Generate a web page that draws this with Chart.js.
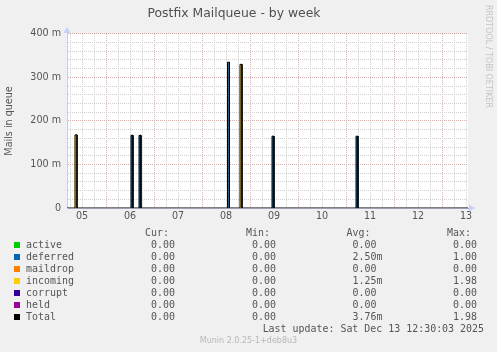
<!DOCTYPE html>
<html>
<head>
<meta charset="utf-8">
<script src="https://cdn.jsdelivr.net/npm/chart.js@4/dist/chart.umd.min.js"></script>
<style>
  html, body { margin: 0; padding: 0; background: #f0f0f0; }
  #wrap { position: relative; width: 497px; height: 352px; overflow: hidden; background: #f0f0f0; }
  #chart { position: absolute; left: 0; top: 0; }
  .mono { position: absolute; font-family: "DejaVu Sans Mono", monospace; font-size: 9.95px; line-height: 12px; color: #555; white-space: pre; }
  .sq { position: absolute; width: 6px; height: 6px; }
  #rrd { position: absolute; left: 483px; top: 5px; width: 10px; line-height: 10px; writing-mode: vertical-rl; font-family: "DejaVu Sans", sans-serif; font-size: 8px; color: #c4c4c4; white-space: nowrap; }
  #munin { position: absolute; left: 0; width: 497px; top: 335px; text-align: center; font-family: "DejaVu Sans", sans-serif; font-size: 8px; line-height: 12px; color: #b8b8b8; }
</style>
</head>
<body>
<div id="wrap">
  <canvas id="chart" width="497" height="230"></canvas>
  <div id="rrd">RRDTOOL / TOBI OETIKER</div>
  <div id="legend"></div>
  <div id="munin">Munin 2.0.25-1+deb8u3</div>
</div>
<script>
// ---- data (hours since Dec 05 00:00; values in mails, 30-min averages) ----
const rangeStart = 4.5;
const rangeEnd = 205;
const sampleHours   = [9,     37,    41,    85.25, 91.5,  107.5, 149.5];
const activeVals    = [0,     0,     0,     0,     0,     0,     0];
const deferredVals  = [0,     0.167, 0.167, 0.335, 0,     0.165, 0.165];
const maildropVals  = [0,     0,     0,     0,     0,     0,     0];
const incomingVals  = [0.168, 0,     0,     0,     0.330, 0,     0];
const corruptVals   = [0,     0,     0,     0,     0,     0,     0];
const heldVals      = [0,     0,     0,     0,     0,     0,     0];
const totalVals     = [0.168, 0.167, 0.167, 0.335, 0.330, 0.165, 0.165];
const sampleHalfSpan = 0.5;

// ---- ticks ----
const xLabelHours = [12, 36, 60, 84, 108, 132, 156, 180, 204];
const xLabels     = ['05', '06', '07', '08', '09', '10', '11', '12', '13'];
const xGridHours  = [6,12,18,24,30,36,42,48,54,60,66,72,78,84,90,96,102,108,114,120,126,132,138,144,150,156,162,168,174,180,186,192,198,204];
const yLabelValues = [0, 0.1, 0.2, 0.3, 0.4];
const yLabels      = ['0', '100 m', '200 m', '300 m', '400 m'];
const yGridValues  = [0,0.02,0.04,0.06,0.08,0.1,0.12,0.14,0.16,0.18,0.2,0.22,0.24,0.26,0.28,0.3,0.32,0.34,0.36,0.38,0.4];

// ---- legend table ----
const seriesNames  = ['active', 'deferred', 'maildrop', 'incoming', 'corrupt', 'held', 'Total'];
const seriesColors = ['#00CC00', '#0066B3', '#FF8000', '#FFCC00', '#330099', '#990099', '#000000'];
const curCol = ['0.00 ', '0.00 ', '0.00 ', '0.00 ', '0.00 ', '0.00 ', '0.00 '];
const minCol = ['0.00 ', '0.00 ', '0.00 ', '0.00 ', '0.00 ', '0.00 ', '0.00 '];
const avgCol = ['0.00 ', '2.50m', '0.00 ', '1.25m', '0.00 ', '0.00 ', '3.76m'];
const maxCol = ['0.00 ', '1.00 ', '0.00 ', '1.98 ', '0.00 ', '0.00 ', '1.98 '];
const lastUpdate = 'Last update: Sat Dec 13 12:30:03 2025';

// each 30-min sample is drawn as a step (rrdtool style)
function stepPoints(values) {
  const pts = [{x: rangeStart, y: 0}];
  sampleHours.forEach((h, i) => {
    if (values[i] > 0) {
      pts.push({x: h - sampleHalfSpan, y: 0}, {x: h - sampleHalfSpan, y: values[i]},
               {x: h + sampleHalfSpan, y: values[i]}, {x: h + sampleHalfSpan, y: 0});
    }
  });
  pts.push({x: rangeEnd, y: 0});
  return pts;
}

const areaSeries = [activeVals, deferredVals, maildropVals, incomingVals, corruptVals, heldVals];
const datasets = [{
  label: 'Total', data: stepPoints(totalVals), borderColor: '#000000', borderWidth: 1,
  fill: false, pointRadius: 0, tension: 0
}];
areaSeries.forEach((vals, i) => {
  datasets.push({
    label: seriesNames[i], data: stepPoints(vals), borderWidth: 0, borderColor: seriesColors[i],
    backgroundColor: seriesColors[i], fill: 'origin', pointRadius: 0, tension: 0
  });
});

const isMajorY = v => Math.abs(v * 10 - Math.round(v * 10)) < 1e-6;

const plotBg = {
  id: 'plotBg',
  beforeDraw(chart) {
    const {ctx, chartArea: a} = chart;
    ctx.save();
    ctx.fillStyle = '#ffffff';
    ctx.fillRect(a.left, a.top, a.right - a.left, a.bottom - a.top);
    ctx.restore();
  }
};

const arrows = {
  id: 'arrows',
  afterDraw(chart) {
    const {ctx, chartArea: a} = chart;
    ctx.save();
    ctx.fillStyle = '#c8d0fa';
    ctx.beginPath();
    ctx.moveTo(a.right + 1, a.bottom - 3.5);
    ctx.lineTo(a.right + 7, a.bottom);
    ctx.lineTo(a.right + 1, a.bottom + 3.5);
    ctx.closePath(); ctx.fill();
    ctx.beginPath();
    ctx.moveTo(a.left - 3.5, a.top - 1);
    ctx.lineTo(a.left, a.top - 7);
    ctx.lineTo(a.left + 3.5, a.top - 1);
    ctx.closePath(); ctx.fill();
    ctx.restore();
  }
};

const axisFont = {family: 'DejaVu Sans', size: 9.6};

new Chart(document.getElementById('chart'), {
  type: 'line',
  data: {datasets},
  plugins: [plotBg, arrows],
  options: {
    responsive: false,
    animation: false,
    events: [],
    layout: {padding: {left: 0, right: 29, top: 0, bottom: 0}},
    plugins: {
      legend: {display: false},
      tooltip: {enabled: false},
      title: {
        display: true, text: 'Postfix Mailqueue - by week', color: '#505050',
        font: {family: 'DejaVu Sans', size: 12.4, weight: 'normal'},
        padding: {top: 6, bottom: 13}
      }
    },
    scales: {
      x: {
        type: 'linear', min: rangeStart, max: rangeEnd,
        afterBuildTicks: s => { s.ticks = xGridHours.map(v => ({value: v})); },
        afterFit: s => { s.height = 22; },
        ticks: {
          autoSkip: false, maxRotation: 0, padding: 3, color: '#555', font: axisFont,
          callback: v => { const i = xLabelHours.indexOf(v); return i >= 0 ? xLabels[i] : ''; }
        },
        grid: {
          drawTicks: false, lineWidth: 1,
          color: c => (c.tick && c.tick.value % 24 === 0) ? '#eaa4a4' : '#d0d0d0'
        },
        border: {display: true, color: '#9c9cb4', width: 1, dash: [1, 1]}
      },
      y: {
        type: 'linear', min: 0, max: 0.4,
        afterBuildTicks: s => { s.ticks = yGridValues.map(v => ({value: v})); },
        afterFit: s => { s.width = 67; },
        ticks: {
          autoSkip: false, padding: 6, color: '#555', font: axisFont,
          callback: v => { const i = yLabelValues.findIndex(t => Math.abs(t - v) < 1e-9); return i >= 0 ? yLabels[i] : ''; }
        },
        grid: {
          drawTicks: false, lineWidth: 1,
          color: c => {
            const v = c.tick ? c.tick.value : 0;
            if (v === 0) return 'rgba(0,0,0,0)';
            return isMajorY(v) ? '#eaa4a4' : '#d0d0d0';
          }
        },
        border: {display: true, color: '#c8cdf0', width: 1, dash: [1, 1]},
        title: {
          display: true, text: 'Mails in queue', color: '#555',
          font: {family: 'DejaVu Sans', size: 9.6}, padding: {top: 4, bottom: 0}
        }
      }
    }
  }
});

// ---- legend (HTML text) ----
const legend = document.getElementById('legend');
function addText(txt, left, top, align, width) {
  const d = document.createElement('div');
  d.className = 'mono';
  d.textContent = txt;
  d.style.top = top + 'px';
  if (align === 'right') { d.style.left = (left - width) + 'px'; d.style.width = width + 'px'; d.style.textAlign = 'right'; }
  else { d.style.left = left + 'px'; }
  legend.appendChild(d);
}
const headerTop = 227.3;
addText('Cur:', 145, headerTop);
addText('Min:', 246, headerTop);
addText('Avg:', 346.5, headerTop);
addText('Max:', 447, headerTop);
seriesNames.forEach((name, k) => {
  const top = 239.3 + 12 * k;
  const sq = document.createElement('div');
  sq.className = 'sq';
  sq.style.left = '14px';
  sq.style.top = (242.3 + 12 * k) + 'px';
  sq.style.background = seriesColors[k];
  legend.appendChild(sq);
  addText(name, 26, top);
  addText(curCol[k], 181, top, 'right', 80);
  addText(minCol[k], 282, top, 'right', 80);
  addText(avgCol[k], 382.5, top, 'right', 80);
  addText(maxCol[k], 483, top, 'right', 80);
});
addText(lastUpdate, 484, 239.3 + 12 * 7, 'right', 300);
</script>
</body>
</html>
